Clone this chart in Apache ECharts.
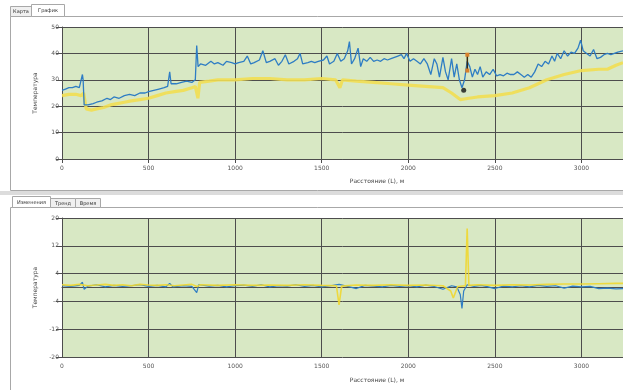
<!DOCTYPE html>
<html>
<head>
<meta charset="utf-8">
<script src="https://cdn.jsdelivr.net/npm/echarts/dist/echarts.min.js"></script>
<style>
  html, body { margin: 0; padding: 0; background: #fff; }
  #chart { width: 623px; height: 390px; }
</style>
</head>
<body>
<div id="chart"></div>
<script>
// верхний график: температура по расстоянию
const topBlueDist = [0, 20, 40, 60, 80, 100, 110, 118, 122, 128, 150, 180, 200, 230, 260, 280, 300, 330, 360, 390, 420, 450, 480, 500, 530, 560, 590, 610, 622, 630, 660, 690, 720, 750, 770, 778, 786, 800, 830, 860, 880, 900, 930, 950, 980, 1000, 1020, 1050, 1070, 1090, 1110, 1140, 1160, 1180, 1200, 1230, 1250, 1270, 1290, 1310, 1340, 1360, 1375, 1390, 1420, 1440, 1460, 1480, 1510, 1530, 1545, 1570, 1590, 1610, 1630, 1650, 1660, 1672, 1690, 1710, 1725, 1740, 1760, 1780, 1800, 1820, 1840, 1860, 1880, 1900, 1920, 1940, 1960, 1975, 1990, 2010, 2030, 2050, 2070, 2090, 2110, 2130, 2150, 2165, 2180, 2200, 2215, 2230, 2250, 2265, 2280, 2295, 2310, 2325, 2340, 2355, 2370, 2385, 2400, 2415, 2430, 2450, 2470, 2490, 2510, 2530, 2550, 2570, 2590, 2610, 2630, 2650, 2670, 2690, 2710, 2730, 2750, 2770, 2790, 2810, 2830, 2845, 2860, 2880, 2900, 2920, 2940, 2960, 2980, 2995, 3010, 3030, 3050, 3070, 3090, 3110, 3130, 3150, 3170, 3190, 3210, 3240];
const topBlueVal = [26, 26.5, 27, 27, 27.5, 27, 27.5, 32, 30, 20.5, 20.5, 21, 21.5, 22, 23, 22.5, 23.5, 23, 24, 24.5, 24, 25, 25, 25.5, 26, 26.5, 27, 27.5, 33, 28.5, 28.5, 29, 29.5, 29, 30, 43, 35, 36, 35.5, 37, 36, 36.5, 35.5, 37, 36.5, 36, 36.5, 37, 39, 36, 36.5, 37.5, 41, 36.5, 37, 38, 35.5, 37, 39.5, 36, 37, 38, 40, 36, 36.5, 37, 36.5, 37, 37.5, 39, 36, 37, 40, 37, 38, 41, 44.5, 36, 38, 42, 35, 38, 37, 38.5, 37, 37.5, 37, 38, 37.5, 38, 38.5, 39, 39.5, 38, 40, 37, 38, 37, 36, 38, 36, 32, 38, 36, 31, 38.5, 33, 30, 38, 31, 36, 30, 27, 30, 37, 35, 31, 34, 32, 35, 31, 33, 32, 34, 31.5, 32, 31.5, 32.5, 32, 32, 33, 32, 31, 32, 31, 33, 36, 35, 37, 36, 39, 37, 40, 38, 41, 39, 40.5, 40, 42, 45, 41, 40, 39, 41.5, 38, 38.5, 39.5, 40, 39.5, 40, 40.5, 41];
const topYellowDist = [0, 40, 80, 110, 125, 140, 170, 200, 240, 280, 320, 360, 400, 450, 500, 550, 600, 650, 700, 750, 770, 785, 795, 850, 900, 1000, 1100, 1200, 1300, 1400, 1500, 1580, 1605, 1620, 1700, 1800, 1900, 2000, 2100, 2200, 2250, 2300, 2350, 2400, 2500, 2600, 2700, 2800, 2900, 3000, 3100, 3150, 3200, 3240];
const topYellowVal = [24, 24.5, 24.5, 24, 25, 19, 18.5, 19, 19.5, 20.5, 21, 21.5, 22, 22.5, 23, 24, 25, 25.5, 26, 27, 27.5, 23, 29, 29.5, 30, 30, 30.5, 30.5, 30, 30, 30.5, 30, 27, 30, 29.5, 29, 28.5, 28, 27.5, 27, 25, 22.5, 23, 23.5, 24, 25, 27, 30, 32, 33.5, 34, 34, 35.5, 36.5];
// курсор на верхнем графике
const cursorDist = [2341, 2341];
const cursorVal = [39.5, 33.5];
const pointDist = [2320];
const pointVal = [26];

// нижний график: изменения
const botBlueDist = [0, 50, 100, 118, 128, 150, 200, 250, 300, 350, 400, 450, 500, 550, 600, 622, 640, 700, 750, 778, 790, 850, 900, 950, 1000, 1050, 1100, 1150, 1200, 1250, 1300, 1350, 1400, 1450, 1500, 1550, 1600, 1650, 1700, 1750, 1800, 1850, 1900, 1950, 2000, 2050, 2100, 2150, 2200, 2250, 2280, 2300, 2310, 2320, 2340, 2380, 2420, 2450, 2500, 2550, 2600, 2650, 2700, 2750, 2800, 2850, 2900, 2950, 3000, 3050, 3100, 3150, 3200, 3240];
const botBlueVal = [0.5, 0.3, 0.6, 1.5, -0.5, 0.4, 0.8, 0.2, 0.6, 0.3, 0.5, 0.8, 0.3, 0.6, 0.2, 1.2, 0.2, 0.5, 0.3, -1.5, 0.8, 0.4, 0.6, 0.2, 0.5, 0.7, 0.3, 0.8, 0.2, 0.5, 0.4, 0.8, 0.3, 0.6, 0.2, 0.5, 0.9, 0.3, -0.3, 0.6, 0.4, 0.2, 0.6, 0.3, 0.5, 0.2, 0.7, 0.3, -0.5, 0.5, 0.2, -2, -6, -1, 0.8, 0.3, 0.6, 0.3, -0.3, 0.4, 0.2, 0.5, 0.2, 0.6, 0.3, 0.5, -0.2, 0.4, 0.2, 0.3, -0.3, -0.2, -0.4, -0.3];
const botYellowDist = [0, 50, 100, 150, 200, 250, 300, 350, 400, 450, 500, 550, 600, 650, 700, 750, 780, 800, 900, 1000, 1100, 1200, 1300, 1400, 1500, 1585, 1600, 1615, 1700, 1800, 1900, 2000, 2100, 2200, 2245, 2260, 2285, 2330, 2340, 2350, 2400, 2500, 2600, 2700, 2800, 2900, 3000, 3100, 3200, 3240];
const botYellowVal = [0.8, 0.6, 0.9, 0.5, 0.7, 0.9, 0.6, 0.8, 0.5, 0.9, 0.7, 0.6, 0.8, 0.5, 0.7, 0.9, 0.3, 0.8, 0.6, 0.8, 0.6, 0.7, 0.6, 0.8, 0.6, 0.5, -5, 0.4, 0.7, 0.6, 0.8, 0.6, 0.7, 0.5, -1, -3, 0.3, 0.5, 17, 0.6, 0.8, 0.6, 0.8, 0.7, 0.9, 1, 1, 1.1, 1.2, 1.2];

const pairs = (xs, ys) => xs.map((x, i) => [x, ys[i]]);

const chart = echarts.init(document.getElementById("chart"));

const labelStyle = { color: "#555", fontSize: 6, fontFamily: "DejaVu Sans" };
const gridLine = { show: true, lineStyle: { color: "#4d4d4d", width: 1 } };

const xAxisBase = (gridIndex) => ({
  type: "value",
  gridIndex: gridIndex,
  min: 0,
  max: 3240,
  interval: 500,
  axisLine: { show: true, lineStyle: { color: "#4d4d4d" } },
  axisTick: { show: true, length: 4, lineStyle: { color: "#4d4d4d" } },
  axisLabel: Object.assign({ margin: 6, showMaxLabel: false, formatter: (v) => String(v) }, labelStyle),
  splitLine: gridLine,
});

const yAxisBase = (gridIndex, min, max, interval) => ({
  type: "value",
  gridIndex: gridIndex,
  min: min,
  max: max,
  interval: interval,
  name: "Температура",
  nameLocation: "middle",
  nameGap: 24,
  nameTextStyle: { color: "#444", fontSize: 6, fontFamily: "DejaVu Sans" },
  axisLine: { show: true, lineStyle: { color: "#4d4d4d" } },
  axisTick: { show: true, length: 6, lineStyle: { color: "#4d4d4d" } },
  axisLabel: Object.assign({ margin: 3 }, labelStyle),
  splitLine: gridLine,
});

const tab = (x, y, w, h, text, active) => ({
  type: "group",
  children: [
    {
      type: "rect",
      shape: { x: x, y: y, width: w, height: h },
      style: { fill: active ? "#fff" : "#f0f0f0", stroke: "#a8a8a8", lineWidth: 1 },
    },
    {
      type: "text",
      x: x + w / 2,
      y: y + h / 2 + 0.5,
      style: { text: text, fill: "#333", fontSize: 5, fontFamily: "DejaVu Sans", align: "center", verticalAlign: "middle" },
    },
  ],
});

chart.setOption({
  animation: false,
  backgroundColor: "#fff",
  graphic: [
    { type: "rect", z: -10, shape: { x: 10.5, y: 16.5, width: 620, height: 174 }, style: { fill: "#fff", stroke: "#a8a8a8" } },
    tab(10.5, 6.5, 21, 10, "Карта", false),
    tab(31.5, 4.5, 33, 12, "График", true),
    { type: "rect", z: -10, shape: { x: 0, y: 191, width: 623, height: 4 }, style: { fill: "#dcdcdc" } },
    { type: "rect", z: -10, shape: { x: 10.5, y: 207.5, width: 620, height: 190 }, style: { fill: "#fff", stroke: "#a8a8a8" } },
    tab(12.5, 196.5, 38, 11, "Изменения", true),
    tab(50.5, 198.5, 25, 9, "Тренд", false),
    tab(75.5, 198.5, 25, 9, "Время", false),
    {
      type: "text", x: 377, y: 181,
      style: { text: "Расстояние (L), м", fill: "#444", fontSize: 6, fontFamily: "DejaVu Sans", align: "center", verticalAlign: "middle" },
    },
    {
      type: "text", x: 377, y: 380,
      style: { text: "Расстояние (L), м", fill: "#444", fontSize: 6, fontFamily: "DejaVu Sans", align: "center", verticalAlign: "middle" },
    },
  ],
  grid: [
    { left: 62, top: 27, width: 562, height: 132, show: true, backgroundColor: "#d8e8c4", borderWidth: 0 },
    { left: 62, top: 218, width: 562, height: 139, show: true, backgroundColor: "#d8e8c4", borderWidth: 0 },
  ],
  xAxis: [xAxisBase(0), xAxisBase(1)],
  yAxis: [yAxisBase(0, 0, 50, 10), yAxisBase(1, -20, 20, 8)],
  series: [
    {
      name: "Тренд",
      type: "line",
      xAxisIndex: 0,
      yAxisIndex: 0,
      data: pairs(topYellowDist, topYellowVal),
      showSymbol: false,
      lineStyle: { color: "#f2de52", width: 3.2, opacity: 0.9 },
    },
    {
      name: "Температура",
      type: "line",
      xAxisIndex: 0,
      yAxisIndex: 0,
      data: pairs(topBlueDist, topBlueVal),
      showSymbol: false,
      lineStyle: { color: "#2e7dc4", width: 1.3 },
    },
    {
      name: "Курсор",
      type: "line",
      xAxisIndex: 0,
      yAxisIndex: 0,
      data: pairs(cursorDist, cursorVal),
      symbol: "rect",
      symbolSize: 4,
      itemStyle: { color: "#d9802a" },
      lineStyle: { color: "#3a2a10", width: 1.5 },
    },
    {
      name: "Точка",
      type: "scatter",
      xAxisIndex: 0,
      yAxisIndex: 0,
      data: pairs(pointDist, pointVal),
      symbolSize: 5,
      itemStyle: { color: "#111" },
    },
    {
      name: "Изменение 2",
      type: "line",
      xAxisIndex: 1,
      yAxisIndex: 1,
      data: pairs(botBlueDist, botBlueVal),
      showSymbol: false,
      lineStyle: { color: "#2e7dc4", width: 1.2 },
    },
    {
      name: "Изменение 1",
      type: "line",
      xAxisIndex: 1,
      yAxisIndex: 1,
      data: pairs(botYellowDist, botYellowVal),
      showSymbol: false,
      lineStyle: { color: "#f0d730", width: 1.6, opacity: 0.9 },
    },
  ],
});
</script>
</body>
</html>
